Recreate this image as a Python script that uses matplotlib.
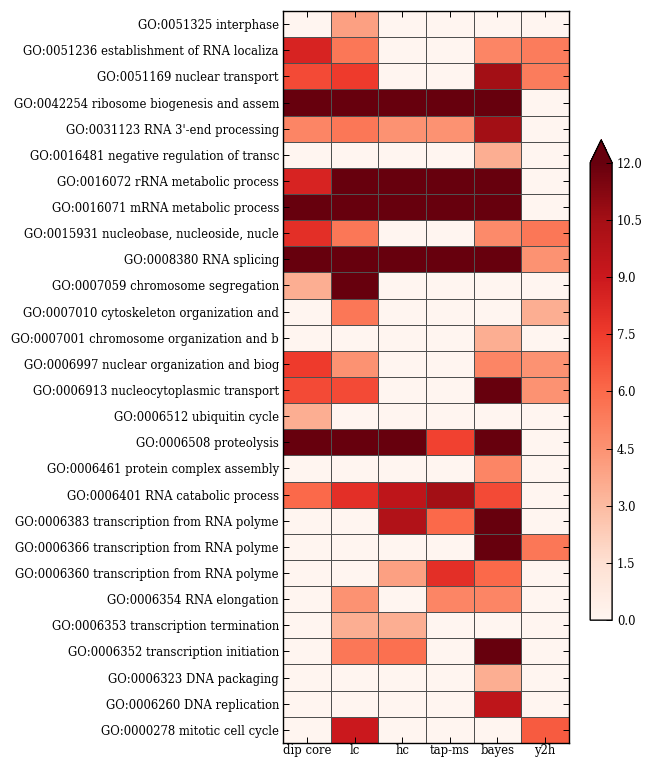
import numpy as np
import matplotlib
matplotlib.use("Agg")
import matplotlib.pyplot as plt

plt.rcParams.update({'font.family': 'DejaVu Serif', 'font.size': 8.4})

# ------------------------------------------------------------------------------------------
# data, rows listed top to bottom as in the picture
go_terms = [
    "GO:0051325 interphase",
    "GO:0051236 establishment of RNA localiza",
    "GO:0051169 nuclear transport",
    "GO:0042254 ribosome biogenesis and assem",
    "GO:0031123 RNA 3'-end processing",
    "GO:0016481 negative regulation of transc",
    "GO:0016072 rRNA metabolic process",
    "GO:0016071 mRNA metabolic process",
    "GO:0015931 nucleobase, nucleoside, nucle",
    "GO:0008380 RNA splicing",
    "GO:0007059 chromosome segregation",
    "GO:0007010 cytoskeleton organization and",
    "GO:0007001 chromosome organization and b",
    "GO:0006997 nuclear organization and biog",
    "GO:0006913 nucleocytoplasmic transport",
    "GO:0006512 ubiquitin cycle",
    "GO:0006508 proteolysis",
    "GO:0006461 protein complex assembly",
    "GO:0006401 RNA catabolic process",
    "GO:0006383 transcription from RNA polyme",
    "GO:0006366 transcription from RNA polyme",
    "GO:0006360 transcription from RNA polyme",
    "GO:0006354 RNA elongation",
    "GO:0006353 transcription termination",
    "GO:0006352 transcription initiation",
    "GO:0006323 DNA packaging",
    "GO:0006260 DNA replication",
    "GO:0000278 mitotic cell cycle",
]

methods = ["dip core", "lc", "hc", "tap-ms", "bayes", "y2h"]

dip_core = [0, 8.5, 7.0, 12, 5.0, 0, 8.5, 12, 8.0, 12, 3.5, 0, 0, 7.5,
            7.0, 3.5, 12, 0, 6.0, 0, 0, 0, 0, 0, 0, 0, 0, 0]
lc = [4.0, 5.5, 7.5, 12, 5.5, 0, 12, 12, 5.5, 12, 12, 5.5, 0, 4.5,
      7.0, 0, 12, 0, 8.0, 0, 0, 0, 4.5, 3.5, 5.5, 0, 0, 9.0]
hc = [0, 0, 0, 12, 4.5, 0, 12, 12, 0, 12, 0, 0, 0, 0,
      0, 0, 12, 0, 9.5, 10.0, 0, 4.0, 0, 3.5, 5.8, 0, 0, 0]
tap_ms = [0, 0, 0, 12, 4.5, 0, 12, 12, 0, 12, 0, 0, 0, 0,
          0, 0, 7.3, 0, 10.5, 6.0, 0, 8.0, 5.0, 0, 0, 0, 0, 0]
bayes = [0, 5.0, 10.5, 12, 10.5, 3.5, 12, 12, 4.8, 12, 0, 0, 3.5, 5.0,
         12, 0, 12, 5.0, 7.0, 12, 12, 6.0, 5.0, 0, 12, 3.5, 9.5, 0]
y2h = [0, 5.3, 5.3, 0, 0, 0, 0, 0, 5.5, 4.5, 0, 3.5, 0, 4.5,
       4.5, 0, 0, 0, 0, 0, 5.5, 0, 0, 0, 0, 0, 0, 6.5]

scores = np.column_stack([dip_core, lc, hc, tap_ms, bayes, y2h])

# ------------------------------------------------------------------------------------------
fig = plt.figure(figsize=(6.45, 7.6), dpi=100)
ax = fig.add_axes([0.439, 0.0225, 0.443, 0.963])

mesh = ax.pcolormesh(scores, cmap="Reds", vmin=0, vmax=12,
                     edgecolors="#505050", linewidth=0.5)
ax.set_xlim(0, len(methods))
ax.set_ylim(len(go_terms), 0)

ax.set_xticks(np.arange(len(methods)) + 0.5)
ax.set_xticklabels(methods)
ax.set_yticks(np.arange(len(go_terms)) + 0.5)
ax.set_yticklabels(go_terms)
ax.tick_params(direction="in", top=True, right=True, length=4, width=0.7, pad=3)
ax.tick_params(axis="x", pad=1)
for spine in ax.spines.values():
    spine.set_linewidth(1.0)

cax = fig.add_axes([0.915, 0.184, 0.034, 0.632])
cbar = fig.colorbar(mesh, cax=cax, extend="max", ticks=np.arange(0, 12.1, 1.5))
cbar.ax.tick_params(direction="in", length=4, width=0.7)
cbar.ax.set_yticklabels(["%.1f" % t for t in np.arange(0, 12.1, 1.5)])
cbar.outline.set_linewidth(1.0)

plt.savefig("out.png", dpi=100)
